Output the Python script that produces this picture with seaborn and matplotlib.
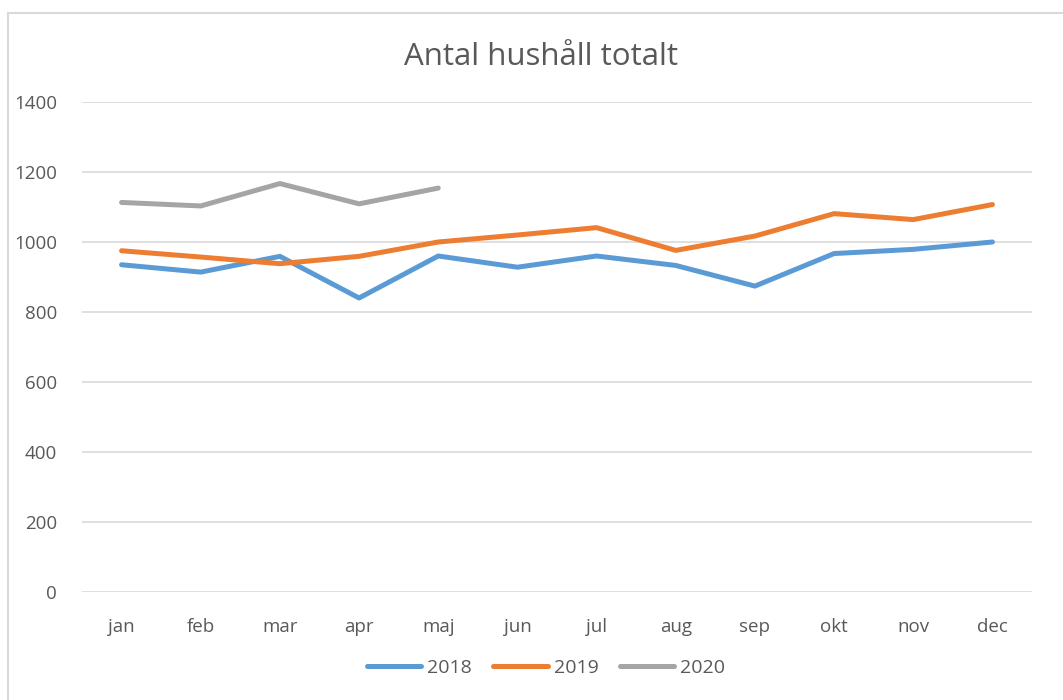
import matplotlib
matplotlib.use("Agg")
import matplotlib.pyplot as plt
from matplotlib.lines import Line2D
import seaborn as sns
import pandas as pd

# Data
months = ["jan", "feb", "mar", "apr", "maj", "jun", "jul", "aug", "sep", "okt", "nov", "dec"]
v2018 = [935, 914, 959, 840, 960, 928, 960, 933, 874, 967, 979, 1000]
v2019 = [975, 957, 938, 959, 1000, 1020, 1041, 976, 1017, 1081, 1064, 1107]
v2020 = [1113, 1103, 1167, 1109, 1154]
years = ["2018", "2019", "2020"]
colors = ["#5B9BD5", "#ED7D31", "#A5A5A5"]

rows = []
for year, vals in zip(years, [v2018, v2019, v2020]):
    for m, v in zip(months, vals):
        rows.append({"month": m, "value": v, "year": year})
df = pd.DataFrame(rows)
df["x"] = df["month"].map({m: i for i, m in enumerate(months)})

sns.set_theme(style="white")
plt.rcParams["font.family"] = ["Open Sans", "DejaVu Sans"]
text_col = "#595959"

fig = plt.figure(figsize=(10.63, 7.0), dpi=100)
ax = fig.add_axes([82 / 1063, 1 - 592 / 700, (1032 - 82) / 1063, (592 - 102) / 700])

sns.lineplot(data=df, x="x", y="value", hue="year", palette=colors,
             linewidth=3.6, ax=ax, legend=False, solid_capstyle="round")

ax.set_xlim(-0.5, 11.5)
ax.set_ylim(0, 1400)
ax.set_yticks(range(0, 1401, 200))
ax.set_xticks(range(len(months)))
ax.set_xticklabels(months)
ax.yaxis.grid(True, color="#D9D9D9", linewidth=1.2)
ax.set_axisbelow(True)
for s in ax.spines.values():
    s.set_visible(False)
ax.set_xlabel("")
ax.set_ylabel("")
ax.tick_params(axis="both", length=0, labelsize=13.5, colors=text_col)
ax.tick_params(axis="x", pad=18.5)
ax.tick_params(axis="y", pad=18)

fig.text(541 / 1063, 1 - 57 / 700, "Antal hushåll totalt", ha="center", va="center",
         fontsize=22.5, color=text_col)

handles = [Line2D([0], [0], color=c, linewidth=3.6, solid_capstyle="round") for c in colors]
fig.legend(handles, years, loc="center", bbox_to_anchor=(546 / 1063, 1 - 668 / 700),
           ncol=3, frameon=False, fontsize=14, labelcolor=text_col,
           handlelength=2.8, columnspacing=1.1, handletextpad=0.3)

# chart border
fig.add_artist(Line2D([8 / 1063, 1], [1 - 13 / 700, 1 - 13 / 700], color="#D9D9D9", linewidth=1.5))
fig.add_artist(Line2D([8 / 1063, 8 / 1063], [0, 1 - 13 / 700], color="#D9D9D9", linewidth=1.5))

fig.savefig("out.png", dpi=100, facecolor="white")
